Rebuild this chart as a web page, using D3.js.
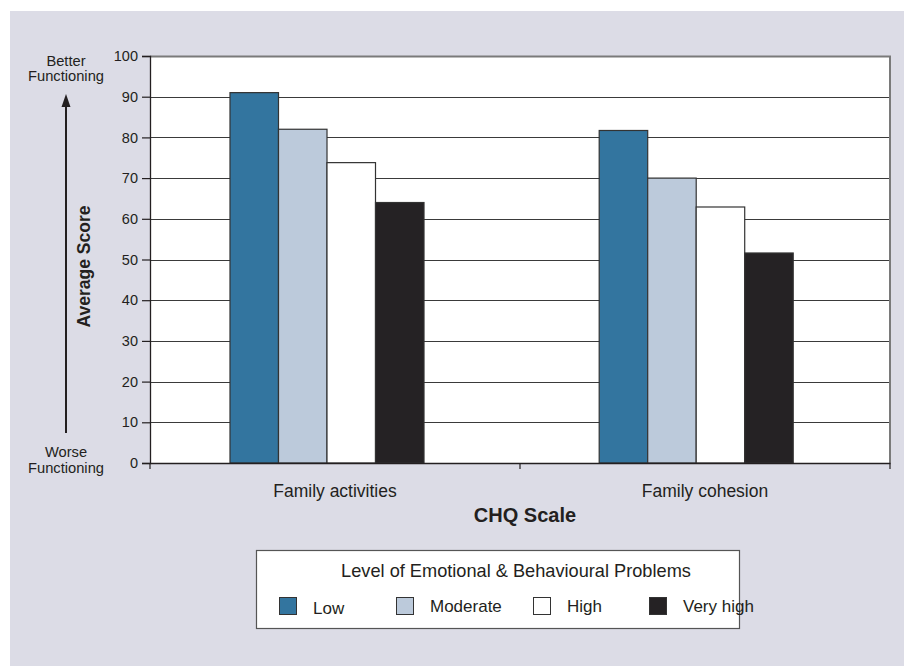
<!DOCTYPE html>
<html>
<head>
<meta charset="utf-8">
<script src="https://cdn.jsdelivr.net/npm/d3@7"></script>
<style>
  html, body { margin: 0; padding: 0; background: #ffffff; }
  svg { display: block; }
  text { font-family: "Liberation Sans", Arial, sans-serif; fill: #231f20; }
</style>
</head>
<body>
<svg id="chart" width="904" height="666"></svg>
<script>
// ---- data ----
const categories = ["Family activities", "Family cohesion"];
const levels = ["Low", "Moderate", "High", "Very high"];
const lowValues = [91, 81.7];
const moderateValues = [82, 70];
const highValues = [73.8, 62.9];
const veryHighValues = [64, 51.6];
const yTicks = [0, 10, 20, 30, 40, 50, 60, 70, 80, 90, 100];
const levelColors = ["#33759f", "#bccadb", "#ffffff", "#252224"];
const xTitle = "CHQ Scale";
const yTitle = "Average Score";
const legendTitle = "Level of Emotional & Behavioural Problems";

const seriesValues = [lowValues, moderateValues, highValues, veryHighValues];

const svg = d3.select("#chart");

// background panel
svg.append("rect").attr("x", 10).attr("y", 11).attr("width", 894).attr("height", 655)
  .attr("fill", "#dcdce6");

const pLeft = 150, pRight = 890, pTop = 56, pBottom = 463;

const y = d3.scaleLinear().domain([0, 100]).range([pBottom, pTop]);
const xCat = d3.scaleBand().domain(categories).range([pLeft, pRight]).padding(0);
const xGroup = d3.scaleBand().domain(categories).range([pLeft, pRight])
  .paddingInner(0.4745).paddingOuter(0.2394).align(0.4525);
const xSub = d3.scaleBand().domain(levels).range([0, xGroup.bandwidth()]).padding(0);

// plot area
svg.append("rect").attr("x", pLeft).attr("y", pTop).attr("width", pRight - pLeft).attr("height", pBottom - pTop)
  .attr("fill", "#ffffff");

// gridlines
svg.append("g").selectAll("line").data(yTicks.filter(d => d > 0 && d < 100)).join("line")
  .attr("x1", pLeft).attr("x2", pRight)
  .attr("y1", d => Math.round(y(d)) + 0.5).attr("y2", d => Math.round(y(d)) + 0.5)
  .attr("stroke", "#3a3a3a").attr("stroke-width", 1.2);

// frame top & right
svg.append("path")
  .attr("d", `M${pLeft},${pTop + 0.5}H${pRight}V${pBottom}`)
  .attr("fill", "none").attr("stroke", "#7a7a7a").attr("stroke-width", 2);

// bars
const groups = svg.append("g").selectAll("g").data(categories).join("g")
  .attr("transform", c => `translate(${xGroup(c)},0)`);
groups.selectAll("rect")
  .data((c, i) => levels.map((l, j) => ({ level: l, value: seriesValues[j][i], color: levelColors[j] })))
  .join("rect")
  .attr("x", d => xSub(d.level))
  .attr("width", xSub.bandwidth())
  .attr("y", d => y(d.value))
  .attr("height", d => y(0) - y(d.value))
  .attr("fill", d => d.color)
  .attr("stroke", "#333333").attr("stroke-width", 1.2);

// y axis
const yAxis = d3.axisLeft(y).tickValues(yTicks).tickSize(8).tickPadding(4).tickFormat(d3.format("d"));
const gy = svg.append("g").attr("transform", `translate(${pLeft},0)`).call(yAxis);
gy.select(".domain").attr("stroke", "#231f20").attr("stroke-width", 1.3);
gy.selectAll(".tick line").attr("stroke", "#231f20").attr("stroke-width", 1.2);
gy.selectAll(".tick text").style("font-family", '"Liberation Sans", Arial, sans-serif')
  .style("font-size", "14.5px").attr("fill", "#231f20");

// x axis
const xAxis = d3.axisBottom(xCat).tickSize(0).tickPadding(22);
const gx = svg.append("g").attr("transform", `translate(0,${pBottom})`).call(xAxis);
gx.select(".domain").attr("stroke", "#231f20").attr("stroke-width", 1.3);
gx.selectAll(".tick text").style("font-family", '"Liberation Sans", Arial, sans-serif')
  .style("font-size", "17.5px").attr("fill", "#231f20");
// x boundary ticks
const boundaries = [pLeft, xCat(categories[1]), pRight];
svg.append("g").selectAll("line").data(boundaries).join("line")
  .attr("x1", d => d).attr("x2", d => d).attr("y1", pBottom).attr("y2", pBottom + 6)
  .attr("stroke", "#231f20").attr("stroke-width", 1.2);

// x title
svg.append("text").attr("x", 525).attr("y", 522).attr("text-anchor", "middle")
  .style("font-size", "20px").style("font-weight", "bold").text(xTitle);

// y title
svg.append("text").attr("transform", "translate(90,266.5) rotate(-90)").attr("text-anchor", "middle")
  .style("font-size", "17.5px").style("font-weight", "bold").text(yTitle);

// arrow
svg.append("line").attr("x1", 66).attr("x2", 66).attr("y1", 433).attr("y2", 104)
  .attr("stroke", "#231f20").attr("stroke-width", 2);
svg.append("path").attr("d", "M66,94L61.5,107H70.5Z").attr("fill", "#231f20");

// better / worse labels
const sideLabels = [["Better", 66], ["Functioning", 81], ["Worse", 457], ["Functioning", 473]];
svg.append("g").selectAll("text").data(sideLabels).join("text")
  .attr("x", 66).attr("y", d => d[1]).attr("text-anchor", "middle")
  .style("font-size", "14.7px").text(d => d[0]);

// legend
const lg = svg.append("g");
lg.append("rect").attr("x", 256.5).attr("y", 550.5).attr("width", 483).attr("height", 78)
  .attr("fill", "#ffffff").attr("stroke", "#555555").attr("stroke-width", 1.2);
lg.append("text").attr("x", 516).attr("y", 577).attr("text-anchor", "middle")
  .style("font-size", "18.2px").text(legendTitle);
const swatchX = [279, 396, 533, 649];
const labelX = [313, 430, 567, 683];
const items = lg.selectAll("g.item").data(levels).join("g").attr("class", "item");
items.append("rect")
  .attr("x", (d, i) => swatchX[i] + 0.5).attr("y", 597.5).attr("width", 17).attr("height", 17)
  .attr("fill", (d, i) => levelColors[i]).attr("stroke", "#333333").attr("stroke-width", 1);
items.append("text")
  .attr("x", (d, i) => labelX[i]).attr("y", (d, i) => i === 0 ? 614 : 612)
  .style("font-size", "17px").text(d => d);
</script>
</body>
</html>
